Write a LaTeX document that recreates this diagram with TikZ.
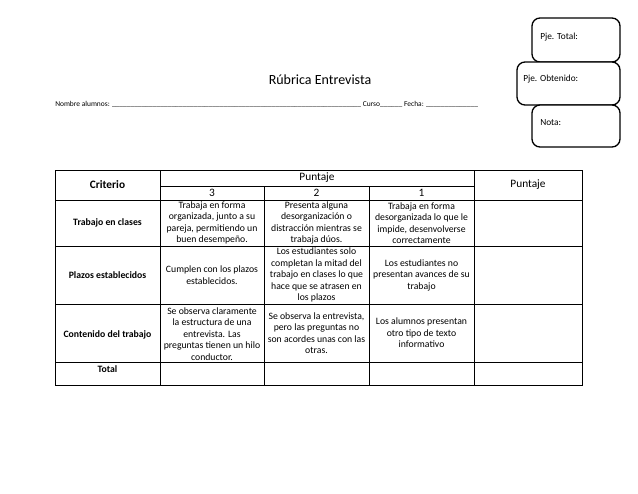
\documentclass[tikz,border=0pt]{standalone}
\usepackage{fontspec}
\setmainfont{Carlito}
\begin{document}
\begin{tikzpicture}[x=0.75pt,y=-0.75pt,
  cell/.style={align=center,font=\fontsize{7.3}{8.6}\selectfont,inner sep=0pt},
  hd/.style={align=center,font=\fontsize{8.5}{10}\selectfont,inner sep=0pt},
  bx/.style={draw,line width=1pt,rounded corners=6pt},
  bl/.style={anchor=west,font=\fontsize{7}{8}\selectfont,inner sep=0pt}]
\useasboundingbox (0,0) rectangle (638,493);
% boxes
\draw[bx] (532,18) rectangle (620,62);
\draw[bx,fill=white] (517,62) rectangle (620,105);
\draw[bx,fill=white] (532,105) rectangle (620,147);
\node[bl] (t1) at (540,37) {Pje. Total:};
\node[bl] (t2) at (523,79) {Pje. Obtenido:};
\node[bl] (t3) at (540,123) {Nota:};
\node[font=\fontsize{10.5}{12}\selectfont] (title) at (320,80) {Rúbrica Entrevista};
\node[bl,font=\fontsize{5.6}{7}\selectfont] (nom) at (55,104) {Nombre alumnos: \_\_\_\_\_\_\_\_\_\_\_\_\_\_\_\_\_\_\_\_\_\_\_\_\_\_\_\_\_\_\_\_\_\_\_\_\_\_\_\_\_\_\_\_\_\_\_\_\_\_\_\_\_\_\_\_\_\_\_\_\_\_\_\_\_\_\_ Curso\_\_\_\_\_\_ Fecha: \_\_\_\_\_\_\_\_\_\_\_\_\_\_};
% table grid
\draw[line width=0.4pt] (55,170) rectangle (582,385);
\draw (160,170) -- (160,385);
\draw (474,170) -- (474,385);
\draw (264,186) -- (264,385);
\draw (369,186) -- (369,385);
\draw (160,186) -- (474,186);
\foreach \y in {200,246,304,362} \draw (55,\y) -- (582,\y);
% headers
\node[hd,font=\bfseries\fontsize{8.5}{10}\selectfont] (crit) at (107.5,185) {Criterio};
\node[hd] (pt) at (317,177.5) {Puntaje};
\node[hd] (p3) at (212,193) {3};
\node[hd] (p2) at (316.5,193) {2};
\node[hd] (p1) at (421.5,193) {1};
\node[hd] (ptr) at (528,185) {Puntaje};
% rows
\node[cell,font=\bfseries\fontsize{7.3}{8.6}\selectfont] (r1) at (107.5,223) {Trabajo en clases};
\node[cell] (c13) at (212,223) {Trabaja en forma\\organizada, junto a su\\pareja, permitiendo un\\buen desempeño.};
\node[cell] (c12) at (316.5,223) {Presenta alguna\\desorganización o\\distracción mientras se\\trabaja dúos.};
\node[cell] (c11) at (421.5,223) {Trabaja en forma\\desorganizada lo que le\\impide, desenvolverse\\correctamente};
\node[cell,font=\bfseries\fontsize{7.3}{8.6}\selectfont] (r2) at (107.5,275) {Plazos establecidos};
\node[cell] (c23) at (212,275) {Cumplen con los plazos\\establecidos.};
\node[cell] (c22) at (316.5,275) {Los estudiantes solo\\completan la mitad del\\trabajo en clases lo que\\hace que se atrasen en\\los plazos};
\node[cell] (c21) at (421.5,275) {Los estudiantes no\\presentan avances de su\\trabajo};
\node[cell,font=\bfseries\fontsize{7.3}{8.6}\selectfont] (r3) at (107.5,335) {Contenido del trabajo};
\node[cell] (c33) at (212,334) {Se observa claramente\\la estructura de una\\entrevista. Las\\preguntas tienen un hilo\\conductor.};
\node[cell] (c32) at (316.5,333) {Se observa la entrevista,\\pero las preguntas no\\son acordes unas con las\\otras.};
\node[cell] (c31) at (421.5,333) {Los alumnos presentan\\otro tipo de texto\\informativo};
\node[cell,font=\bfseries\fontsize{7.3}{8.6}\selectfont] (r4) at (107.5,369) {Total};
\end{tikzpicture}
\end{document}
